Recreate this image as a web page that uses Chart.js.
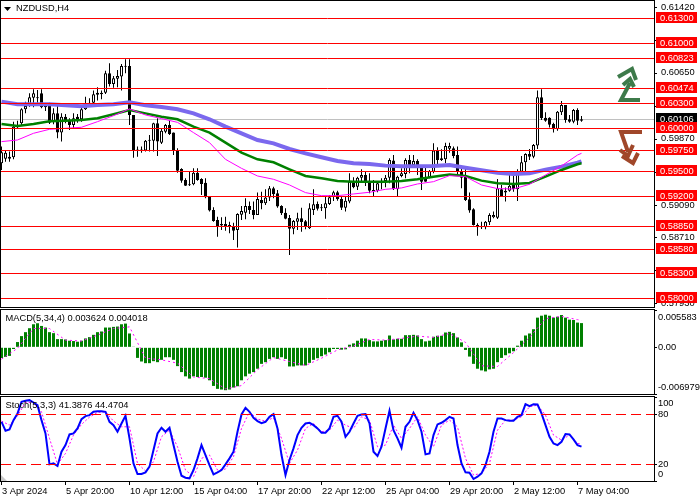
<!DOCTYPE html>
<html>
<head>
<meta charset="utf-8">
<style>
  html, body { margin: 0; padding: 0; background: #fff; }
  canvas, svg { position: absolute; left: 0; }
</style>
<script src="https://cdn.jsdelivr.net/npm/chart.js@4"></script>
</head>
<body>
<canvas id="price" width="700" height="316" style="top:0"></canvas>
<canvas id="macd" width="700" height="100" style="top:309px"></canvas>
<canvas id="stoch" width="700" height="104" style="top:396px"></canvas>
<svg width="700" height="500" style="top:0" fill="none" stroke-width="4">
  <g stroke="#3d7a4a">
    <polyline points="640,100 621,100 630,83"/>
    <polyline points="618,77 632,69 636,80"/>
    <polyline points="623,85 630,79 634,87"/>
  </g>
  <g stroke="#a0472a">
    <polyline points="642,132 621,132 628,152"/>
    <polyline points="620,150 628,156 633,145"/>
    <polyline points="622,156 633,163 638,153"/>
  </g>
</svg>
<script>
const opens = [
  0.59587,0.59642,0.59666,0.59658,0.60012,0.60059,0.60224,0.60286,0.60361,0.60361,
  0.60412,0.60247,0.60263,0.60078,0.60176,0.59949,0.60137,0.60090,0.60039,0.60137,
  0.60106,0.60224,0.60275,0.60302,0.60420,0.60420,0.60420,0.60648,0.60522,0.60585,
  0.60609,0.60734,0.60734,0.60157,0.59748,0.59748,0.59737,0.59854,0.59854,0.60059,
  0.59831,0.59960,0.60039,0.59949,0.59744,0.59521,0.59391,0.59328,0.59340,0.59477,
  0.59403,0.59359,0.59194,0.59037,0.58920,0.58872,0.58872,0.58861,0.58849,0.58802,
  0.58982,0.59006,0.59084,0.59037,0.58979,0.59155,0.59116,0.59183,0.59293,0.59234,
  0.59084,0.59006,0.58943,0.58817,0.58900,0.58939,0.58904,0.58821,0.59037,0.59108,
  0.59069,0.59057,0.59108,0.59194,0.59246,0.59167,0.59065,0.59136,0.59379,0.59312,
  0.59418,0.59450,0.59371,0.59261,0.59265,0.59352,0.59379,0.59418,0.59619,0.59281,
  0.59438,0.59462,0.59627,0.59568,0.59615,0.59540,0.59411,0.59422,0.59489,0.59737,
  0.59646,0.59634,0.59760,0.59764,0.59685,0.59489,0.59430,0.59163,0.59045,0.58861,
  0.58849,0.58833,0.58892,0.58951,0.58947,0.59281,0.59265,0.59265,0.59332,0.59281,
  0.59489,0.59599,0.59697,0.59666,0.59796,0.60365,0.60125,0.60125,0.60051,0.59988,
  0.60188,0.60275,0.60106,0.60078,0.60216,0.60090
];
const highs = [
  0.59784,0.59744,0.59725,0.60078,0.60090,0.60235,0.60314,0.60412,0.60459,0.60451,
  0.60459,0.60294,0.60302,0.60235,0.60263,0.60176,0.60169,0.60118,0.60176,0.60169,
  0.60263,0.60373,0.60353,0.60444,0.60483,0.60444,0.60679,0.60766,0.60616,0.60687,
  0.60758,0.60813,0.60813,0.60157,0.59784,0.59784,0.59862,0.59921,0.60066,0.60118,
  0.60000,0.60051,0.60098,0.59949,0.59764,0.59528,0.59411,0.59489,0.59528,0.59528,
  0.59411,0.59411,0.59202,0.59069,0.58959,0.58951,0.58959,0.58900,0.58888,0.58998,
  0.59084,0.59175,0.59136,0.59136,0.59242,0.59253,0.59281,0.59320,0.59312,0.59273,
  0.59092,0.59057,0.58979,0.58920,0.59006,0.59065,0.58920,0.59116,0.59281,0.59136,
  0.59108,0.59194,0.59214,0.59265,0.59265,0.59194,0.59194,0.59469,0.59422,0.59430,
  0.59517,0.59489,0.59469,0.59391,0.59371,0.59411,0.59450,0.59646,0.59685,0.59442,
  0.59528,0.59646,0.59685,0.59685,0.59634,0.59568,0.59548,0.59509,0.59823,0.59776,
  0.59752,0.59831,0.59831,0.59784,0.59784,0.59528,0.59528,0.59242,0.59057,0.58880,
  0.58900,0.58908,0.58998,0.59018,0.59403,0.59332,0.59301,0.59450,0.59469,0.59517,
  0.59674,0.59705,0.59756,0.59815,0.60444,0.60459,0.60188,0.60129,0.60066,0.60204,
  0.60322,0.60275,0.60157,0.60228,0.60235,0.60145
];
const lows = [
  0.59509,0.59607,0.59607,0.59634,0.60000,0.60027,0.60176,0.60255,0.60247,0.60294,
  0.60235,0.60204,0.60051,0.60047,0.59882,0.59843,0.60059,0.59980,0.60000,0.60066,
  0.60078,0.60216,0.60255,0.60286,0.60326,0.60341,0.60404,0.60491,0.60479,0.60483,
  0.60444,0.60648,0.60039,0.59654,0.59666,0.59713,0.59725,0.59725,0.59725,0.59674,
  0.59815,0.59941,0.59921,0.59685,0.59477,0.59359,0.59320,0.59320,0.59328,0.59383,
  0.59214,0.59175,0.59018,0.58900,0.58723,0.58802,0.58794,0.58762,0.58684,0.58594,
  0.58920,0.58927,0.58990,0.58927,0.58979,0.59045,0.59096,0.59143,0.59175,0.59065,
  0.58979,0.58927,0.58507,0.58751,0.58802,0.58782,0.58810,0.58814,0.58979,0.59030,
  0.59026,0.58935,0.59096,0.59143,0.59147,0.59037,0.59018,0.59116,0.59293,0.59273,
  0.59379,0.59320,0.59234,0.59202,0.59246,0.59281,0.59304,0.59352,0.59273,0.59202,
  0.59422,0.59411,0.59469,0.59548,0.59450,0.59273,0.59371,0.59411,0.59469,0.59568,
  0.59615,0.59587,0.59713,0.59646,0.59462,0.59293,0.59143,0.59006,0.58853,0.58735,
  0.58814,0.58810,0.58861,0.58939,0.58931,0.59194,0.59136,0.59253,0.59253,0.59143,
  0.59469,0.59489,0.59627,0.59646,0.59756,0.60098,0.60078,0.60008,0.59949,0.59972,
  0.60157,0.60066,0.60066,0.60059,0.60039,0.60078
];
const closes = [
  0.59717,0.59713,0.59642,0.60019,0.60027,0.60224,0.60263,0.60365,0.60412,0.60353,
  0.60247,0.60263,0.60066,0.60176,0.59949,0.60137,0.60078,0.60039,0.60118,0.60106,
  0.60224,0.60275,0.60302,0.60400,0.60396,0.60400,0.60648,0.60522,0.60589,0.60616,
  0.60734,0.60726,0.60157,0.59744,0.59737,0.59737,0.59854,0.59862,0.60059,0.59843,
  0.59972,0.60039,0.59933,0.59744,0.59501,0.59383,0.59324,0.59340,0.59477,0.59391,
  0.59344,0.59187,0.59030,0.58908,0.58841,0.58853,0.58849,0.58849,0.58794,0.58990,
  0.59026,0.59084,0.59037,0.58979,0.59167,0.59116,0.59183,0.59293,0.59222,0.59077,
  0.58998,0.58935,0.58817,0.58908,0.58939,0.58896,0.58841,0.59057,0.59104,0.59053,
  0.59057,0.59116,0.59187,0.59246,0.59163,0.59065,0.59147,0.59371,0.59304,0.59418,
  0.59450,0.59379,0.59265,0.59273,0.59352,0.59383,0.59418,0.59627,0.59281,0.59430,
  0.59469,0.59627,0.59568,0.59615,0.59568,0.59371,0.59371,0.59497,0.59737,0.59627,
  0.59627,0.59792,0.59792,0.59674,0.59489,0.59418,0.59155,0.59030,0.58861,0.58833,
  0.58833,0.58900,0.58979,0.58979,0.59293,0.59202,0.59242,0.59324,0.59281,0.59462,
  0.59599,0.59697,0.59666,0.59803,0.60365,0.60118,0.60090,0.60043,0.59988,0.60196,
  0.60275,0.60098,0.60078,0.60216,0.60090,0.60106
];

// moving averages, read every 4th bar plus the last one
const maSlow = [0.60314,0.60283,0.60283,0.60283,0.60271,0.60259,0.60275,0.60283,0.60306,0.60271,0.60251,0.60224,0.60176,0.60106,0.60019,0.59941,0.59862,0.59823,0.59756,0.59705,0.59658,0.59615,0.59587,0.59579,0.59560,0.59552,0.59552,0.59556,0.59568,0.59536,0.59505,0.59477,0.59462,0.59469,0.59513,0.59548,0.59595,0.59611];
const maMid = [0.60051,0.60027,0.60051,0.60082,0.60090,0.60098,0.60118,0.60165,0.60216,0.60176,0.60137,0.60106,0.60019,0.59949,0.59831,0.59713,0.59634,0.59599,0.59517,0.59438,0.59411,0.59379,0.59371,0.59371,0.59371,0.59379,0.59399,0.59430,0.59454,0.59438,0.59383,0.59352,0.59344,0.59356,0.59430,0.59509,0.59576,0.59587];
const maFast = [0.59843,0.59862,0.59941,0.59988,0.60000,0.60012,0.60078,0.60149,0.60228,0.60157,0.60114,0.60070,0.59949,0.59831,0.59634,0.59528,0.59438,0.59399,0.59332,0.59242,0.59206,0.59206,0.59226,0.59246,0.59281,0.59297,0.59344,0.59371,0.59442,0.59430,0.59332,0.59289,0.59285,0.59340,0.59450,0.59556,0.59685,0.59705];

const priceLevels = [0.613,0.61,0.60823,0.60474,0.603,0.6,0.5975,0.595,0.592,0.5885,0.5858,0.583,0.58];
const priceTicks = [0.6142,0.6103,0.6065,0.6026,0.5987,0.5948,0.5909,0.5871,0.5832,0.5793];
const lastPrice = 0.60106;

const macdHist = [
  -0.00158,-0.00143,-0.00128,-0.00025,0.00079,0.00168,0.00227,0.00286,0.00345,0.00360,
  0.00320,0.00296,0.00227,0.00212,0.00123,0.00123,0.00118,0.00099,0.00094,0.00084,
  0.00099,0.00133,0.00153,0.00187,0.00227,0.00237,0.00296,0.00296,0.00306,0.00311,
  0.00345,0.00355,0.00207,0.00005,-0.00158,-0.00212,-0.00237,-0.00237,-0.00207,-0.00222,
  -0.00187,-0.00148,-0.00148,-0.00187,-0.00281,-0.00370,-0.00434,-0.00468,-0.00434,-0.00444,
  -0.00444,-0.00454,-0.00493,-0.00577,-0.00621,-0.00631,-0.00641,-0.00631,-0.00601,-0.00582,
  -0.00493,-0.00434,-0.00394,-0.00370,-0.00320,-0.00247,-0.00222,-0.00173,-0.00148,-0.00173,
  -0.00148,-0.00173,-0.00286,-0.00286,-0.00271,-0.00271,-0.00271,-0.00232,-0.00187,-0.00163,
  -0.00133,-0.00108,-0.00074,-0.00025,-0.00025,-0.00035,-0.00030,0.00039,0.00059,0.00099,
  0.00133,0.00133,0.00108,0.00089,0.00089,0.00099,0.00108,0.00177,0.00118,0.00128,
  0.00128,0.00182,0.00182,0.00187,0.00177,0.00123,0.00089,0.00099,0.00158,0.00173,
  0.00173,0.00222,0.00232,0.00212,0.00148,0.00074,-0.00039,-0.00138,-0.00247,-0.00320,
  -0.00345,-0.00360,-0.00330,-0.00320,-0.00222,-0.00158,-0.00118,-0.00089,-0.00059,0.00025,
  0.00099,0.00177,0.00207,0.00271,0.00444,0.00473,0.00488,0.00473,0.00444,0.00458,
  0.00483,0.00444,0.00414,0.00409,0.00370,0.003624
];
// also every 4th bar plus the last one
const macdSignal = [-0.00177,-0.00015,0.00281,0.00281,0.00108,0.00094,0.00182,0.00281,0.00306,-0.00163,-0.00187,-0.00237,-0.00444,-0.00468,-0.00621,-0.00572,-0.00335,-0.00153,-0.00212,-0.00271,-0.00163,-0.00039,0.00020,0.00118,0.00108,0.00133,0.00168,0.00148,0.00207,0.00074,-0.00276,-0.00286,-0.00079,0.00148,0.00429,0.00463,0.00414,0.004018];
const macdTicks = [0.005583,0,-0.006979];
const macdTickText = ['0.005583','0.00','-0.006979'];

const stochMain = [
  71.2,60.4,62,73.2,81.2,95.2,96.4,97.2,94.4,91.2,
  73.2,57.2,20,21.2,18,35.2,43.2,56,57.2,63.2,
  74.4,78,79.2,83.2,84,84,83.2,71.2,67.2,59.2,
  69.2,78.4,51.2,21.2,8.4,8.4,10.4,17.2,37.2,57.2,
  64,59.2,64,43.2,23.2,6.4,4,3.2,13.2,27.2,
  43.2,31.2,19.2,8,10.4,13.2,20,27.2,35.2,59.2,
  80,88,83.2,76,72,69.6,71.2,77.2,80.4,63.2,
  31.2,7.2,25.2,39.2,55.2,64,69.2,70,67.2,63.2,
  58,58,63.2,77.2,78.4,71.2,53.2,59.2,69.2,78.4,
  80,80.4,69.2,35.2,30,41.2,63.2,84.4,61.2,51.2,
  40,65.2,71.2,82,73.2,59.2,32,33.2,55.2,68,
  70,73.2,77.2,75.2,43.2,21.2,10.4,10,2.4,5.2,
  9.2,19.2,35.2,59.2,75.2,75.2,73.2,72.4,72.4,77.2,
  79.2,92.4,90,92.4,92,81.2,67.2,53.2,45.2,43.2,
  47.2,56.4,56,50,43.2,41.3876
];
// every 2nd bar plus the last one
const stochSignal = [72,67.2,78.4,94.4,94.4,83.2,51.2,20,33.2,55.2,68,76.8,82.4,83.2,72,65.2,65.2,21.2,12,23.2,53.2,61.2,41.2,13.2,5.2,27.2,31.2,13.2,14.4,29.2,63.2,83.2,74.4,72,76,51.2,21.2,37.2,63.2,69.2,59.2,61.2,73.2,67.2,63.2,77.2,73.2,41.2,43.2,67.2,51.2,63.2,77.2,55.2,41.2,67.2,73.2,65.2,27.2,7.2,9.2,21.2,61.2,73.2,73.2,77.2,89.2,91.2,79.2,55.2,49.2,55.2,45.2,44.4704];
const stochLevels = [80,20];
const stochTicks = [100,80,20,0];

const xTickLabels = ['3 Apr 2024','5 Apr 20:00','10 Apr 12:00','15 Apr 04:00','17 Apr 20:00','22 Apr 12:00','25 Apr 04:00','29 Apr 20:00','2 May 12:00','7 May 04:00'];

const FONT = '9.3px "Liberation Sans"';
const lastBar = opens.length - 1;

function sparse(values, step) {
  return values.map((y, k) => ({ x: k === values.length - 1 ? lastBar : k * step, y }));
}

function xAxis(show) {
  return {
    type: 'linear', min: -0.125, max: 163.125, display: show, offset: false,
    border: { display: false },
    grid: { drawOnChartArea: false, color: '#000', tickLength: 4, offset: false },
    ticks: { display: false, autoSkip: false },
    afterBuildTicks: s => { s.ticks = xTickLabels.map((_, k) => ({ value: k * 16 })); },
    afterFit: s => { s.height = show ? 19 : 0; }
  };
}

function yAxis(min, max, ticks) {
  return {
    position: 'right', min, max,
    border: { display: false },
    grid: { drawOnChartArea: false, color: '#000', tickLength: 3 },
    ticks: { display: false, autoSkip: false },
    afterBuildTicks: s => { s.ticks = ticks.map(value => ({ value })); },
    afterFit: s => { s.width = 46; }
  };
}

// black frame + title text, drawn on top of the marks
function framePlugin(title, titleX, titleY) {
  return {
    id: 'frame',
    afterDraw(chart) {
      const { ctx, chartArea: a } = chart;
      ctx.save();
      ctx.strokeStyle = '#000';
      ctx.lineWidth = 1;
      ctx.strokeRect(a.left - 0.5, a.top - 0.5, a.right - a.left + 1, a.bottom - a.top + 1);
      ctx.fillStyle = '#000';
      ctx.font = FONT;
      ctx.textBaseline = 'middle';
      ctx.fillText(title, titleX, titleY);
      ctx.restore();
    }
  };
}

// horizontal levels snapped to a pixel row
function levelsPlugin(levels, dash) {
  return {
    id: 'levels',
    afterDatasetsDraw(chart) {
      const { ctx, chartArea: a, scales: { y } } = chart;
      ctx.save();
      ctx.strokeStyle = '#ff0000';
      ctx.lineWidth = 1;
      ctx.setLineDash(dash);
      levels.forEach(v => {
        const py = Math.round(y.getPixelForValue(v)) + 0.5;
        ctx.beginPath();
        ctx.moveTo(a.left, py);
        ctx.lineTo(a.right, py);
        ctx.stroke();
      });
      ctx.restore();
    }
  };
}

// axis texts; shift moves a label off its tick like the terminal does at the panel edges
function labelsPlugin(values, texts, shifts, textX) {
  return {
    id: 'axisLabels',
    afterDraw(chart) {
      const { ctx, scales: { y } } = chart;
      ctx.save();
      ctx.font = FONT;
      ctx.fillStyle = '#000';
      ctx.textBaseline = 'middle';
      values.forEach((v, k) => ctx.fillText(texts[k], textX, y.getPixelForValue(v) + shifts[k]));
      ctx.restore();
    }
  };
}

const priceExtras = {
  id: 'priceExtras',
  beforeDatasetsDraw(chart) {
    const { ctx, chartArea: a, scales: { y } } = chart;
    const py = Math.round(y.getPixelForValue(lastPrice)) + 0.5;
    ctx.save();
    ctx.strokeStyle = '#c0c0c0';
    ctx.beginPath();
    ctx.moveTo(a.left, py);
    ctx.lineTo(a.right, py);
    ctx.stroke();
    ctx.restore();
  },
  afterDraw(chart) {
    const { ctx, scales: { y } } = chart;
    ctx.save();
    ctx.font = FONT;
    ctx.textBaseline = 'middle';
    const box = (v, bg) => {
      const py = Math.round(y.getPixelForValue(v));
      ctx.fillStyle = bg;
      ctx.fillRect(656, py - 6, 41, 11);
      ctx.fillStyle = '#fff';
      ctx.fillText(v.toFixed(5), 660, py);
    };
    box(lastPrice, '#000');
    priceLevels.forEach(v => box(v, '#ff0000'));
    // small drop-down triangle in front of the symbol name
    ctx.fillStyle = '#000';
    ctx.beginPath();
    ctx.moveTo(4, 7);
    ctx.lineTo(11, 7);
    ctx.lineTo(7.5, 11);
    ctx.fill();
    ctx.restore();
  }
};

const stochCorner = {
  id: 'stochCorner',
  afterDraw(chart) {
    const { ctx, chartArea: a } = chart;
    ctx.save();
    ctx.fillStyle = '#c8c8c8';
    ctx.beginPath();
    ctx.moveTo(a.left, a.bottom - 6);
    ctx.lineTo(a.left + 6, a.bottom);
    ctx.lineTo(a.left, a.bottom);
    ctx.fill();
    ctx.restore();
  }
};

const xLabels = {
  id: 'xLabels',
  afterDraw(chart) {
    const { ctx, scales: { x }, chartArea: a } = chart;
    ctx.save();
    ctx.font = FONT;
    ctx.fillStyle = '#000';
    ctx.textBaseline = 'middle';
    xTickLabels.forEach((t, k) => ctx.fillText(t, x.getPixelForValue(k * 16) + 0.5, a.bottom + 10));
    ctx.restore();
  }
};

const baseOptions = (scales, padding) => ({
  responsive: false,
  animation: false,
  events: [],
  layout: { padding },
  scales,
  plugins: { legend: { display: false }, tooltip: { enabled: false }, title: { display: false } },
  elements: { point: { radius: 0 }, line: { tension: 0 } }
});

const candleRange = (a, b) => opens.map((_, i) => ({ x: i, y: [a[i], b[i]] }));

new Chart(document.getElementById('price'), {
  data: {
    datasets: [
      { type: 'line', data: sparse(maFast, 4), borderColor: '#ff00ff', borderWidth: 1, order: 1 },
      { type: 'line', data: sparse(maMid, 4), borderColor: '#008000', borderWidth: 2.5, order: 2 },
      { type: 'line', data: sparse(maSlow, 4), borderColor: '#7b68ee', borderWidth: 4, order: 3 },
      { type: 'bar', data: opens.map((o, i) => ({ x: i, y: [o, closes[i]] })), order: 4, grouped: false,
        barThickness: 3, inflateAmount: 0, borderSkipped: false, borderWidth: 1, borderColor: '#000', minBarLength: 1,
        backgroundColor: opens.map((o, i) => closes[i] >= o ? '#fff' : '#000') },
      { type: 'bar', data: candleRange(lows, highs), order: 5, grouped: false,
        barThickness: 1, inflateAmount: 0, backgroundColor: '#000', borderWidth: 0 }
    ]
  },
  options: baseOptions({ x: xAxis(false), y: yAxis(0.57894, 0.615, priceTicks) }, { top: 1, left: 1, bottom: 9 }),
  plugins: [
    levelsPlugin(priceLevels, []),
    labelsPlugin(priceTicks, priceTicks.map(v => v.toFixed(5)), priceTicks.map(() => -0.5), 661),
    priceExtras,
    framePlugin('NZDUSD,H4', 16, 8)
  ]
});

new Chart(document.getElementById('macd'), {
  data: {
    datasets: [
      { type: 'line', data: sparse(macdSignal, 4), borderColor: '#ff00ff', borderWidth: 1, borderDash: [2, 3], order: 1 },
      { type: 'bar', data: macdHist.map((y, x) => ({ x, y })), backgroundColor: '#008000', barThickness: 3, inflateAmount: 0, order: 2 }
    ]
  },
  options: baseOptions({ x: xAxis(false), y: yAxis(-0.006979, 0.005583, macdTicks) }, { top: 1, left: 1, bottom: 15 }),
  plugins: [
    labelsPlugin(macdTicks, macdTickText, [7, 0, -7], 658),
    framePlugin('MACD(5,34,4) 0.003624 0.004018', 5.5, 9.5)
  ]
});

new Chart(document.getElementById('stoch'), {
  data: {
    datasets: [
      { type: 'line', data: stochMain.map((y, x) => ({ x, y })), borderColor: '#0000ff', borderWidth: 2, order: 1 },
      { type: 'line', data: sparse(stochSignal, 2), borderColor: '#ff00ff', borderWidth: 1, borderDash: [2, 2], order: 2 }
    ]
  },
  options: baseOptions({ x: xAxis(true), y: yAxis(0, 101, stochTicks) }, { top: 1, left: 1 }),
  plugins: [
    levelsPlugin(stochLevels, [10, 5]),
    labelsPlugin(stochTicks, stochTicks.map(String), [6, 0, 0, -7], 658),
    stochCorner,
    xLabels,
    framePlugin('Stoch(5,3,3) 41.3876 44.4704', 5.5, 9.5)
  ]
});
</script>
</body>
</html>
